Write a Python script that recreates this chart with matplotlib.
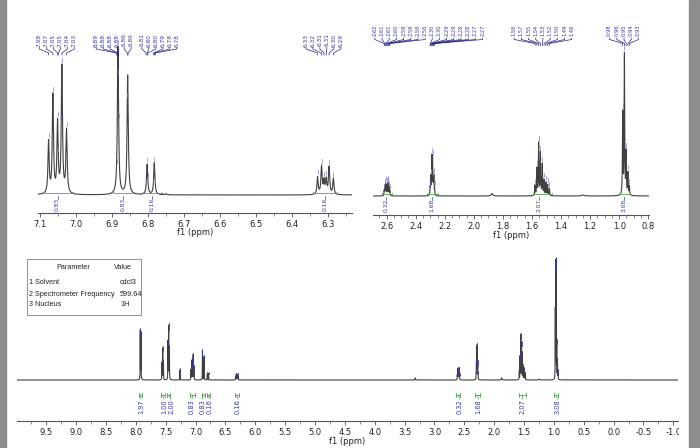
import numpy as np
import matplotlib.pyplot as plt
from matplotlib.ticker import MultipleLocator, FormatStrFormatter
from matplotlib.patches import Rectangle

plt.rcParams['axes.unicode_minus'] = False
plt.rcParams['font.family'] = ['DejaVu Sans']

# ---- spectrum: picked lines (ppm, intensity, half width in ppm) ----
peak_ppm = [7.926, 7.914, 7.562, 7.550, 7.538, 7.462, 7.450, 7.438, 7.260,
            7.077, 7.065, 7.052, 7.040, 7.027, 6.884, 6.857, 6.803, 6.783, 6.750,
            6.329, 6.318, 6.311, 6.305, 6.297, 6.285,
            3.320,
            2.617, 2.612, 2.607, 2.601, 2.594, 2.589, 2.583, 2.578,
            2.301, 2.297, 2.292, 2.288, 2.284, 2.279, 2.275, 2.270,
            1.875,
            1.579, 1.566, 1.554, 1.542, 1.529, 1.517, 1.504, 1.492, 1.480,
            1.250,
            0.976, 0.964, 0.952, 0.940, 0.930]
peak_int = [58, 55, 20, 37, 22, 45, 63, 38, 12,
            12.1, 22.8, 16.3, 29.5, 14.7, 34.4, 27.7, 7.0, 7.4, 0.3,
            4.0, 6.5, 3.0, 3.3, 6.3, 3.7,
            2.4,
            5, 9, 12, 10, 10, 12, 8, 5,
            6, 18, 13, 35, 32, 13, 18, 6,
            2.5,
            10, 27, 52, 42, 31, 15, 13, 11, 7,
            1.0,
            82, 140, 42, 22, 9]
peak_hw = [0.002] * 25 + [0.004] + [0.0015] * 16 + [0.006] + [0.002] * 9 + [0.01] + [0.002] * 5

# ---- peak labels ----
tl_groups = [
    (['7.08', '7.07', '7.05', '7.05', '7.04', '7.03'],
     [7.077, 7.065, 7.052, 7.050, 7.040, 7.027]),
    (['6.89', '6.88', '6.88', '6.88', '6.86', '6.86'],
     [6.888, 6.885, 6.884, 6.882, 6.858, 6.856]),
    (['6.81', '6.80', '6.80', '6.79', '6.78', '6.78'],
     [6.806, 6.803, 6.801, 6.786, 6.783, 6.780]),
    (['6.33', '6.32', '6.31', '6.31', '6.30', '6.29'],
     [6.329, 6.318, 6.311, 6.305, 6.297, 6.285]),
]
tr_groups = [
    (['2.62', '2.61', '2.61', '2.60', '2.59', '2.59', '2.58', '2.58'],
     [2.617, 2.612, 2.607, 2.601, 2.594, 2.589, 2.583, 2.578]),
    (['2.30', '2.30', '2.29', '2.29', '2.28', '2.28', '2.27', '2.27'],
     [2.301, 2.297, 2.292, 2.288, 2.284, 2.279, 2.275, 2.270]),
    (['1.58', '1.57', '1.55', '1.54', '1.53', '1.52', '1.50', '1.49', '1.48'],
     [1.579, 1.566, 1.554, 1.542, 1.529, 1.517, 1.504, 1.492, 1.480]),
    (['0.98', '0.96', '0.95', '0.94', '0.93'],
     [0.976, 0.964, 0.952, 0.940, 0.930]),
]
tl_label_centers = [7.054, 6.896, 6.769, 6.313]
tr_label_centers = [2.508, 2.113, 1.525, 0.967]

# ---- integrals ----
int_regions = [(7.95, 7.89), (7.58, 7.52), (7.48, 7.42), (7.09, 7.01), (6.897, 6.844),
               (6.815, 6.762), (6.342, 6.276), (2.634, 2.566), (2.32, 2.245),
               (1.59, 1.464), (0.995, 0.926)]
int_values = ['1.97', '1.00', '2.00', '0.83', '0.83', '0.16', '0.16',
              '0.32', '1.68', '2.07', '3.08']
int_label_ppm = [7.915, 7.53, 7.41, 7.06, 6.89, 6.76, 6.29, 2.58, 2.26, 1.53, 0.94]
tl_int_label_ppm = [7.052, 6.870, 6.790, 6.308]
tr_int_label_ppm = [2.607, 2.290, 1.550, 0.967]

table_rows = [('1 Solvent', 'cdcl3'), ('2 Spectrometer Frequency', '599.64'), ('3 Nucleus', '1H')]

BLUE = '#3a3aa6'
NAVY = '#27278a'
GREEN = '#4aa84a'
LINE = '#404040'

ppm = np.arange(-1.2, 10.2, 0.0002)


def spectrum(x):
    y = np.zeros_like(np.asarray(x, dtype=float))
    for p, h, w in zip(peak_ppm, peak_int, peak_hw):
        y = y + h / (1 + ((x - p) / w) ** 2)
    return y


spec = spectrum(ppm)

W, H = 700, 448
fig = plt.figure(figsize=(7, 4.48), dpi=100)


def make_ax(x0, x1, y_top, y_axis, y_base, lim, major, minor, scale):
    ax = fig.add_axes([x0 / W, 1 - y_axis / H, (x1 - x0) / W, (y_axis - y_top) / H])
    ax.set_xlim(*lim)
    ax.set_ylim(-(y_axis - y_base), y_base - y_top)
    for s in ['top', 'left', 'right']:
        ax.spines[s].set_visible(False)
    ax.spines['bottom'].set_color('#555555')
    ax.spines['bottom'].set_linewidth(0.8)
    ax.set_yticks([])
    ax.patch.set_alpha(0)
    ax.xaxis.set_major_locator(MultipleLocator(major))
    ax.xaxis.set_minor_locator(MultipleLocator(minor))
    ax.xaxis.set_major_formatter(FormatStrFormatter('%.1f'))
    ax.tick_params(axis='x', which='major', length=3, width=0.6, pad=2.2,
                   labelsize=6, color='#555555', labelcolor='#222222')
    ax.tick_params(axis='x', which='minor', length=2, width=0.5, color='#555555')
    ax.plot(ppm, spec * scale, color=LINE, lw=0.8)
    ax.text(0.5, -20 / (y_axis - y_top), 'f1 (ppm)', transform=ax.transAxes,
            ha='center', va='center', fontsize=6, color='#222222')
    ax.y_base = y_base
    ax.scale = scale
    ax.pxppm = (x1 - x0) / (lim[0] - lim[1])
    return ax


def Y(ax, ypx):
    return ax.y_base - ypx


def peak_labels(ax, groups, centers, y_text, fs, spacing_px):
    step = spacing_px / ax.pxppm
    for (texts, targets), c in zip(groups, centers):
        n = len(texts)
        for i, (t, tx) in enumerate(zip(texts, targets)):
            lx = c - (i - (n - 1) / 2) * step
            ax.text(lx, Y(ax, y_text), t, rotation=90, ha='center', va='center',
                    fontsize=fs, color=BLUE, clip_on=False)
            ax.plot([lx, lx, tx, tx],
                    [Y(ax, y_text + 7.5), Y(ax, y_text + 9), Y(ax, y_text + 13), Y(ax, y_text + 15)],
                    color=NAVY, lw=0.5, clip_on=False)
            h = spectrum(np.array([tx]))[0] * ax.scale
            ax.plot([tx, tx], [h + 2, h + 6], color='#8080c8', lw=0.5)


def integrals_top(ax, regions, values, label_ppm, fs):
    for (a, b), v, lp in zip(regions, values, label_ppm):
        ax.plot([a, a, b, b], [3, 1.5, 1.5, 3], color=GREEN, lw=0.6, clip_on=False)
        ax.plot([lp, lp], [-1, -4], color=BLUE, lw=0.5, clip_on=False)
        ax.text(lp, -9.5, v, rotation=90, ha='center', va='center', fontsize=fs,
                color=BLUE, clip_on=False)


# ---- top left: 7.1 - 6.23 ppm ----
ax1 = make_ax(38.3, 352, 20, 212.7, 195, (7.1056, 6.2333), 0.1, 0.05, 4.3)
peak_labels(ax1, tl_groups, tl_label_centers, 40, 4.2, 7.0)
integrals_top(ax1, int_regions[3:7], int_values[3:7], tl_int_label_ppm, 4.3)

# ---- top right: 2.7 - 0.8 ppm ----
ax2 = make_ax(372.7, 649, 15, 215, 196, (2.696, 0.795), 0.2, 0.05, 1.0)
peak_labels(ax2, tr_groups, tr_label_centers, 30.5, 3.7, 7.2)
integrals_top(ax2, int_regions[7:], int_values[7:], tr_int_label_ppm, 4.3)

# ---- bottom: full spectrum ----
ax3 = make_ax(17.3, 677.5, 255, 421, 380, (9.985, -1.07), 0.5, 0.25, 0.843)
for p, h in zip(peak_ppm, peak_int):
    if h >= 5:
        top = spectrum(np.array([p]))[0] * ax3.scale
        ax3.plot([p, p], [top * 0.9, top + 1.5], color=BLUE, lw=0.6)
for (a, b), v, lp in zip(int_regions, int_values, int_label_ppm):
    c = (a + b) / 2
    ax3.plot([a, b], [Y(ax3, 395)] * 2, color=GREEN, lw=0.6)
    ax3.plot([a, a], [Y(ax3, 393), Y(ax3, 397)], color=GREEN, lw=0.6)
    ax3.plot([b, b], [Y(ax3, 393), Y(ax3, 397)], color=GREEN, lw=0.6)
    ax3.plot([c, lp], [Y(ax3, 395), Y(ax3, 399)], color=GREEN, lw=0.6)
    ax3.text(lp, Y(ax3, 407), v, rotation=90, ha='center', va='center', fontsize=4.8,
             color=BLUE)

# ---- parameter table ----
def fx(px):
    return px / W


def fy(py):
    return 1 - py / H


fig.add_artist(Rectangle((fx(27), fy(315)), fx(141) - fx(27), fy(259) - fy(315),
                         transform=fig.transFigure, fill=False, edgecolor='#999999', lw=0.8))
tfont = dict(fontsize=5.2, color='#222222', family='Liberation Sans', va='center')
fig.text(fx(73), fy(267), 'Parameter', ha='center', **tfont)
fig.text(fx(123), fy(267), 'Value', ha='center', **tfont)
for (name, val), py in zip(table_rows, [282, 294, 305]):
    fig.text(fx(29), fy(py), name, ha='left', **tfont)
    fig.text(fx(120), fy(py), val, ha='left', **tfont)

# ---- screenshot frame ----
fig.add_artist(Rectangle((fx(679), 0), fx(689) - fx(679), 1, transform=fig.transFigure,
                         color='white', zorder=10))
fig.add_artist(Rectangle((fx(689), 0), 1, 1, transform=fig.transFigure,
                         color='#8c8c8c', zorder=11))
fig.add_artist(Rectangle((0, 0), fx(6), 1, transform=fig.transFigure,
                         color='#8c8c8c', zorder=11))

fig.savefig('out.png', dpi=100)
